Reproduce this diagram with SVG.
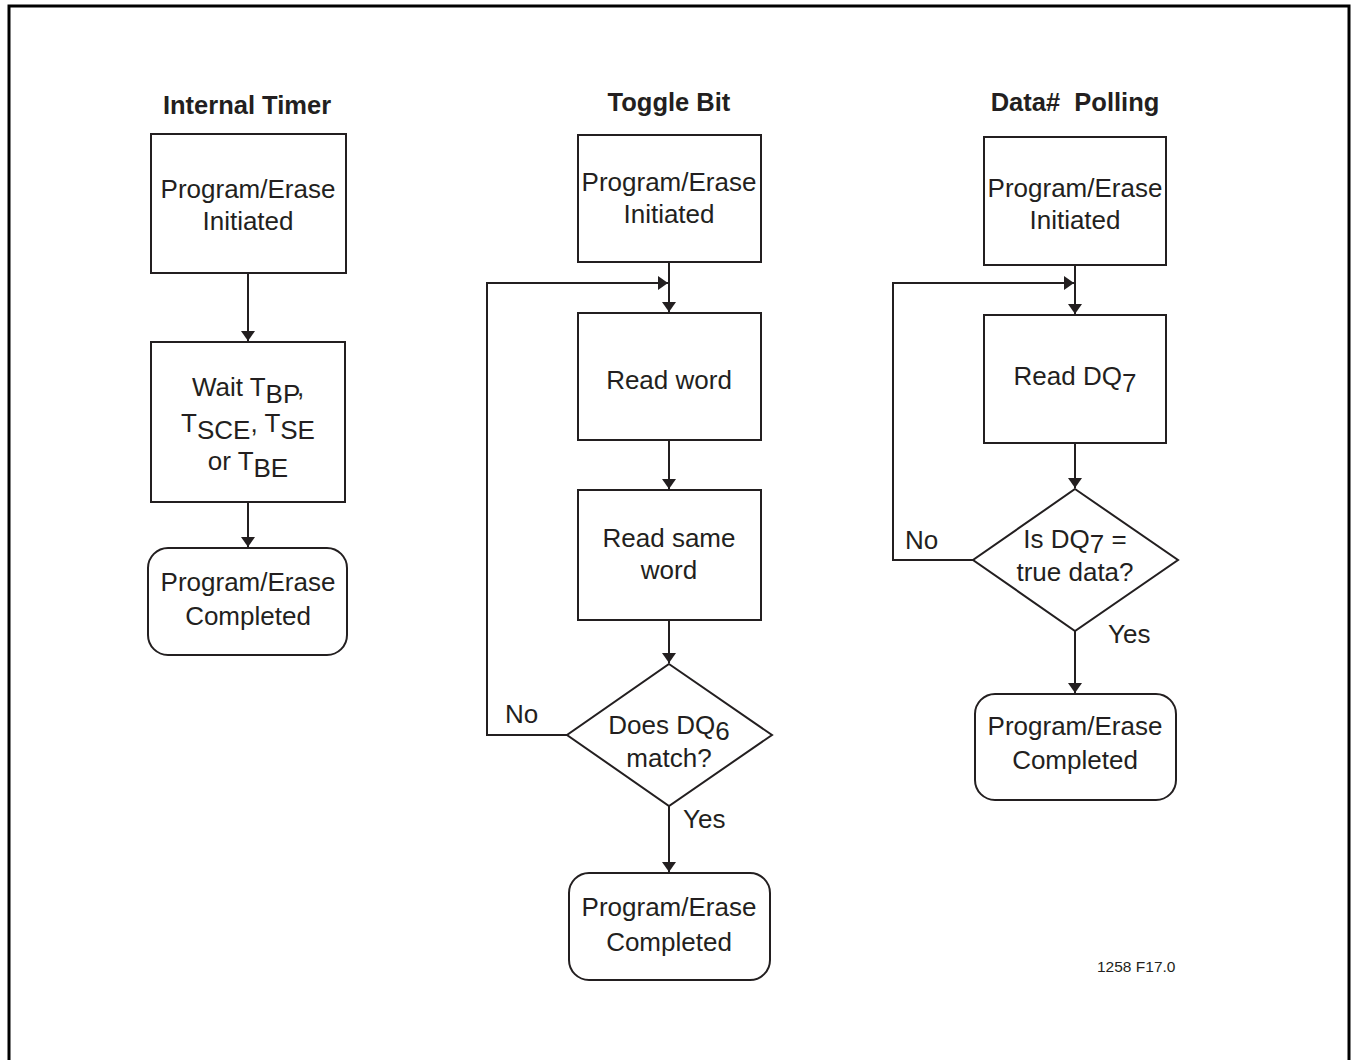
<svg xmlns="http://www.w3.org/2000/svg" width="1353" height="1060" viewBox="0 0 1353 1060">
<style>
.b{fill:#fff;stroke:#231f20;stroke-width:2}
.c{fill:none;stroke:#231f20;stroke-width:2}
text{font-family:"Liberation Sans",Arial,sans-serif;font-size:26px;fill:#231f20;text-anchor:middle}
.t{font-weight:bold;font-size:25.5px}
.s{font-size:15.5px;text-anchor:start}
.l{text-anchor:start}
</style>
<defs>
<marker id="a" viewBox="0 0 10 10" refX="10" refY="5" markerWidth="5" markerHeight="7" markerUnits="strokeWidth" orient="auto" preserveAspectRatio="none">
<path d="M0,0 L10,5 L0,10 z" fill="#231f20"/>
</marker>
</defs>
<rect x="9" y="6" width="1340" height="1100" fill="none" stroke="#000" stroke-width="3"/>
<text class="t" x="247" y="114">Internal Timer</text>
<text class="t" x="669" y="111">Toggle Bit</text>
<text class="t" x="1075" y="111" style="white-space:pre">Data#  Polling</text>

<g id="connectors">
<line class="c" x1="248" y1="273" x2="248" y2="341" marker-end="url(#a)"/>
<line class="c" x1="248" y1="502" x2="248" y2="547" marker-end="url(#a)"/>
<line class="c" x1="669" y1="262" x2="669" y2="312" marker-end="url(#a)"/>
<polyline class="c" points="567,735 487,735 487,283 668,283" marker-end="url(#a)"/>
<line class="c" x1="669" y1="440" x2="669" y2="489" marker-end="url(#a)"/>
<line class="c" x1="669" y1="620" x2="669" y2="663" marker-end="url(#a)"/>
<line class="c" x1="669" y1="806" x2="669" y2="872" marker-end="url(#a)"/>
<line class="c" x1="1075" y1="265" x2="1075" y2="314" marker-end="url(#a)"/>
<polyline class="c" points="973,560 893,560 893,283 1074,283" marker-end="url(#a)"/>
<line class="c" x1="1075" y1="443" x2="1075" y2="488" marker-end="url(#a)"/>
<line class="c" x1="1075" y1="631" x2="1075" y2="693" marker-end="url(#a)"/>
<text class="l" x="505" y="723">No</text>
<text class="l" x="683" y="828">Yes</text>
<text class="l" x="905" y="549">No</text>
<text class="l" x="1108" y="643">Yes</text>
</g>

<g id="it1">
<rect class="b" x="151" y="134" width="195" height="139"/>
<text x="248" y="198">Program/Erase</text>
<text x="248" y="230">Initiated</text>
</g>
<g id="it2">
<rect class="b" x="151" y="342" width="194" height="160"/>
<text x="248" y="396">Wait T<tspan dy="7">BP</tspan><tspan dy="-7">,</tspan></text>
<text x="248" y="432">T<tspan dy="7">SCE</tspan><tspan dy="-7">, T</tspan><tspan dy="7">SE</tspan></text>
<text x="248" y="470">or T<tspan dy="7">BE</tspan></text>
</g>
<g id="it3">
<rect class="b" x="148" y="548" width="199" height="107" rx="20"/>
<text x="248" y="591">Program/Erase</text>
<text x="248" y="625">Completed</text>
</g>

<g id="tb1">
<rect class="b" x="578" y="135" width="183" height="127"/>
<text x="669" y="191">Program/Erase</text>
<text x="669" y="223">Initiated</text>
</g>
<g id="tb2">
<rect class="b" x="578" y="313" width="183" height="127"/>
<text x="669" y="389">Read word</text>
</g>
<g id="tb3">
<rect class="b" x="578" y="490" width="183" height="130"/>
<text x="669" y="547">Read same</text>
<text x="669" y="579">word</text>
</g>
<g id="tb4">
<polygon class="b" points="669,664 772,735 669,806 567,735"/>
<text x="669" y="734">Does DQ<tspan dy="6">6</tspan></text>
<text x="669" y="767">match?</text>
</g>
<g id="tb5">
<rect class="b" x="569" y="873" width="201" height="107" rx="20"/>
<text x="669" y="916">Program/Erase</text>
<text x="669" y="951">Completed</text>
</g>

<g id="dp1">
<rect class="b" x="984" y="137" width="182" height="128"/>
<text x="1075" y="197">Program/Erase</text>
<text x="1075" y="229">Initiated</text>
</g>
<g id="dp2">
<rect class="b" x="984" y="315" width="182" height="128"/>
<text x="1075" y="385">Read DQ<tspan dy="7">7</tspan></text>
</g>
<g id="dp3">
<polygon class="b" points="1075,489 1178,560 1075,631 973,560"/>
<text x="1075" y="548">Is DQ<tspan dy="5">7</tspan><tspan dy="-5"> =</tspan></text>
<text x="1075" y="581">true data?</text>
</g>
<g id="dp4">
<rect class="b" x="975" y="694" width="201" height="106" rx="20"/>
<text x="1075" y="735">Program/Erase</text>
<text x="1075" y="769">Completed</text>
</g>
<text class="s" x="1097" y="972">1258 F17.0</text>
</svg>
